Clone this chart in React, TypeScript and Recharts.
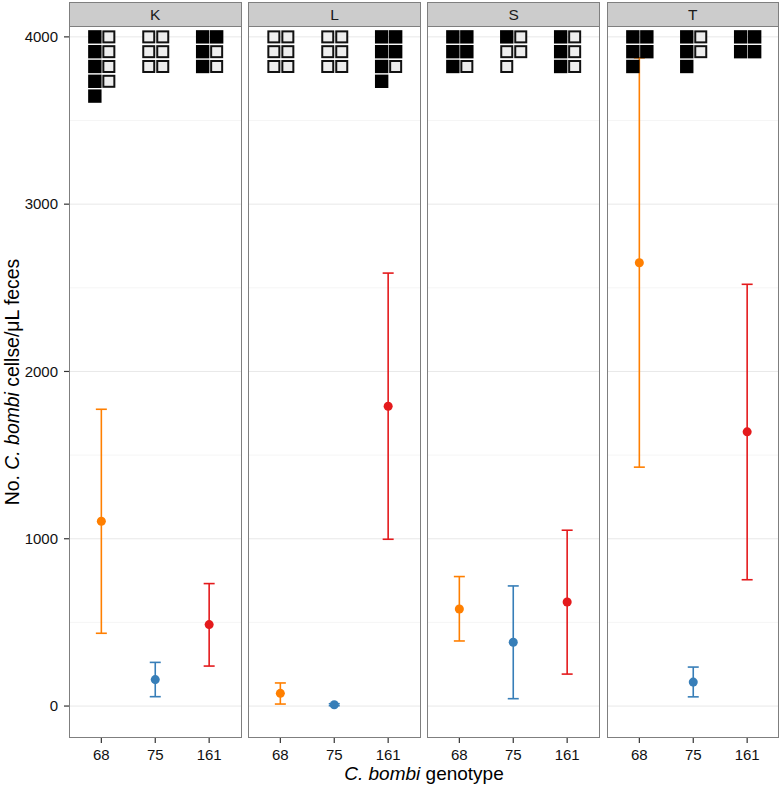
import React from 'react';
import { ComposedChart, Scatter, XAxis, YAxis, CartesianGrid, ErrorBar } from 'recharts';

// ---- data ----
const facets = ['K', 'L', 'S', 'T'];
const genotypes = ['68', '75', '161'];
const genotypeColors = ['#FF7F00', '#377EB8', '#E41A1C'];

const meanK = [1105, 158, 487];
const lowK = [435, 56, 239];
const highK = [1774, 261, 732];

const meanL = [76, 8, 1792];
const lowL = [12, 2, 997];
const highL = [138, 14, 2588];

const meanS = [580, 381, 622];
const lowS = [389, 44, 191];
const highS = [774, 718, 1051];

const meanT = [2650, 143, 1639];
const lowT = [1428, 55, 755];
const highT = [3875, 233, 2521];

// squares: rows separated by '/', F = filled, E = empty (left column first)
const squaresK = ['FE/FE/FE/FE/F', 'EE/EE/EE', 'FF/FE/FE'];
const squaresL = ['EE/EE/EE', 'EE/EE/EE', 'FF/FF/FE/F'];
const squaresS = ['FF/FF/FE', 'FE/EE/E', 'FE/FE/FE'];
const squaresT = ['FF/FF/F', 'FE/FE/F', 'FF/FF'];

const yTicks = [0, 1000, 2000, 3000, 4000];
const yMinorTicks = [500, 1500, 2500, 3500];

const meansByFacet = [meanK, meanL, meanS, meanT];
const lowsByFacet = [lowK, lowL, lowS, lowT];
const highsByFacet = [highK, highL, highS, highT];
const squaresByFacet = [squaresK, squaresL, squaresS, squaresT];

// ---- layout constants ----
const W = 783;
const H = 787;
const PANEL_LEFT = 69;
const PANEL_PITCH = 179.2;
const PANEL_W = 172.5;
const PANEL_TOP = 26;
const PANEL_BOTTOM = 738;
const STRIP_TOP = 2;
const Y_DOMAIN: [number, number] = [-191, 4065];
const SQUARE_TOP = 4000;
const SQUARE_ROW_STEP = 88.5;
const SQ = 13.4;
const COL_DX = 7;
const FONT = '"Liberation Sans", Arial, Helvetica, sans-serif';
const BORDER = '#7f7f7f';

function buildSquares(grids: string[]) {
  const pts: any[] = [];
  grids.forEach((g, ci) => {
    g.split('/').forEach((row, ri) => {
      row.split('').forEach((c, col) => {
        pts.push({ x: ci + 1, y: SQUARE_TOP - ri * SQUARE_ROW_STEP, col, filled: c === 'F' });
      });
    });
  });
  return pts;
}

const SquareShape = (props: any) => {
  const { cx, cy, payload } = props;
  if (cx == null || cy == null) return null;
  const x = cx + (payload.col === 0 ? -COL_DX : COL_DX) + 0.5;
  if (payload.filled) {
    return <rect x={x - SQ / 2} y={cy - SQ / 2} width={SQ} height={SQ} fill="#000" />;
  }
  const s = SQ - 2.4;
  return (
    <rect x={x - s / 2} y={cy - s / 2} width={s} height={s} fill="#eeeeee" stroke="#111" strokeWidth={2} />
  );
};

function Panel({ idx }: { idx: number }) {
  const isFirst = idx === 0;
  const left = PANEL_LEFT + idx * PANEL_PITCH;
  const chartLeft = isFirst ? 0 : left;
  const width = isFirst ? left + PANEL_W : PANEL_W;
  const means = meansByFacet[idx];
  const lows = lowsByFacet[idx];
  const highs = highsByFacet[idx];
  const squares = buildSquares(squaresByFacet[idx]);

  return (
    <>
      <div style={{ position: 'absolute', left: chartLeft, top: 0 }}>
        <ComposedChart width={width} height={H} margin={{ top: PANEL_TOP, right: 0, bottom: 0, left: 0 }}>
          <CartesianGrid vertical={false} horizontalValues={yMinorTicks} stroke="#f5f5f5" strokeWidth={1} />
          <CartesianGrid vertical={false} horizontalValues={yTicks} stroke="#e8e8e8" strokeWidth={1} />
          <XAxis
            type="number"
            dataKey="x"
            domain={[0.4, 3.6]}
            ticks={[1, 2, 3]}
            interval={0}
            allowDataOverflow
            tickFormatter={(v: number) => genotypes[v - 1]}
            height={H - PANEL_BOTTOM}
            axisLine={false}
            tickSize={5}
            tickMargin={6}
            tickLine={{ stroke: '#333', strokeWidth: 1.2 }}
            tick={{ fill: '#111', fontSize: 15, fontFamily: FONT }}
          />
          <YAxis
            type="number"
            dataKey="y"
            domain={Y_DOMAIN}
            ticks={yTicks}
            interval={0}
            allowDataOverflow
            hide={!isFirst}
            width={PANEL_LEFT}
            axisLine={false}
            tickSize={5}
            tickMargin={6}
            tickLine={{ stroke: '#333', strokeWidth: 1.2 }}
            tick={{ fill: '#111', fontSize: 15, fontFamily: FONT }}
          />
          <Scatter data={squares} shape={SquareShape} isAnimationActive={false} />
          {genotypes.map((g, i) => (
            <Scatter
              key={g}
              data={[{ x: i + 1, y: means[i], err: [means[i] - lows[i], highs[i] - means[i]] }]}
              fill={genotypeColors[i]}
              isAnimationActive={false}
            >
              <ErrorBar dataKey="err" direction="y" width={5.5} stroke={genotypeColors[i]} strokeWidth={1.6} />
            </Scatter>
          ))}
        </ComposedChart>
      </div>
      <div
        style={{
          position: 'absolute',
          left,
          top: PANEL_TOP,
          width: PANEL_W,
          height: PANEL_BOTTOM - PANEL_TOP,
          border: `1px solid ${BORDER}`,
          boxSizing: 'border-box',
          pointerEvents: 'none',
        }}
      />
      <div
        style={{
          position: 'absolute',
          left,
          top: STRIP_TOP,
          width: PANEL_W,
          height: PANEL_TOP - STRIP_TOP + 1,
          background: '#cccccc',
          border: `1px solid ${BORDER}`,
          boxSizing: 'border-box',
          fontFamily: FONT,
          fontSize: 15.5,
          color: '#1a1a1a',
          textAlign: 'center',
          lineHeight: `${PANEL_TOP - STRIP_TOP - 1}px`,
        }}
      >
        {facets[idx]}
      </div>
    </>
  );
}

export default function App() {
  return (
    <div style={{ position: 'absolute', left: 0, top: 0, width: W, height: H, background: '#fff', overflow: 'hidden' }}>
      {facets.map((f, i) => (
        <Panel key={f} idx={i} />
      ))}
      <svg width={W} height={H} style={{ position: 'absolute', left: 0, top: 0, pointerEvents: 'none' }}>
        <text
          transform={`translate(19,${(PANEL_TOP + PANEL_BOTTOM) / 2}) rotate(-90)`}
          textAnchor="middle"
          fontFamily={FONT}
          fontSize={19.4}
          fill="#000"
        >
          No. <tspan fontStyle="italic">C. bombi</tspan> cellse/μL feces
        </text>
        <text x={424} y={780} textAnchor="middle" fontFamily={FONT} fontSize={19} fill="#000">
          <tspan fontStyle="italic">C. bombi</tspan> genotype
        </text>
      </svg>
    </div>
  );
}
